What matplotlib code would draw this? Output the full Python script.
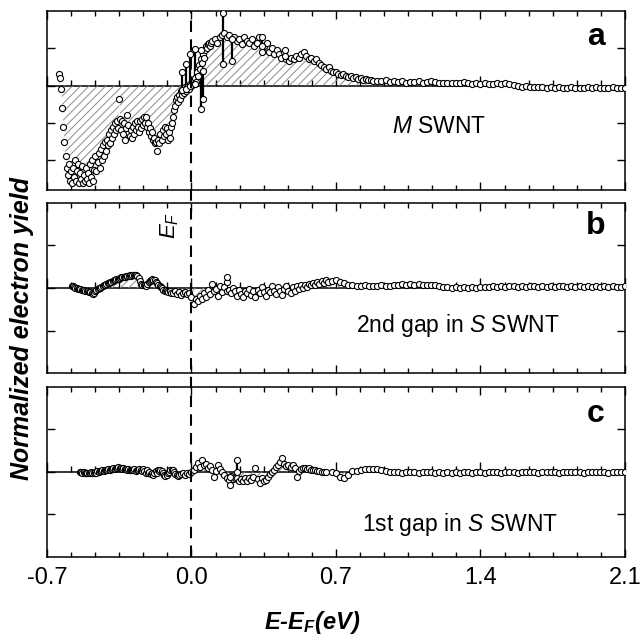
import numpy as np
import matplotlib
matplotlib.use('Agg')
import matplotlib.pyplot as plt
import matplotlib.transforms as mtransforms
from matplotlib.lines import Line2D
from matplotlib.ticker import MultipleLocator

plt.rcParams['font.family'] = ['Liberation Sans', 'DejaVu Sans']
plt.rcParams['mathtext.fontset'] = 'custom'
plt.rcParams['mathtext.rm'] = 'Liberation Sans'
plt.rcParams['mathtext.it'] = 'Liberation Sans:italic'
plt.rcParams['mathtext.bf'] = 'Liberation Sans:bold'
plt.rcParams['mathtext.bfit'] = 'Liberation Sans:bold:italic'
plt.rcParams['axes.unicode_minus'] = False
plt.rcParams['hatch.linewidth'] = 0.7

# ---- data (energy relative to E_F in eV, yield in panel units) ----
fermi_energy = 0.0
x_ticks = [-0.7, 0.0, 0.7, 1.4, 2.1]
x_tick_labels = ['-0.7', '0.0', '0.7', '1.4', '2.1']

# panel a: M SWNT  -- three scan segments (start energy, step)
a_starts = [-0.640, 0.112, 0.900]
a_steps = [0.005, 0.012, 0.020]
a_seg1 = [0.30, 0.20, -0.10, -0.60, -1.10, -1.50, -1.90, -2.20, -2.40, -2.10,
          -2.55, -2.30, -2.60, -2.20, -2.45, -2.00, -2.55, -2.30, -2.10, -2.60,
          -2.35, -2.50, -2.15, -2.60, -2.40, -2.55, -2.20, -2.50, -2.35, -2.60,
          -2.10, -2.45, -2.00, -2.55, -2.25, -1.90, -2.30, -2.05, -1.80, -2.20,
          -1.70, -2.00, -1.60, -1.90, -1.50, -1.75, -1.45, -1.60, -1.30, -1.55,
          -1.20, -1.40, -1.10, -1.30, -1.00, -1.20, -0.95, -1.15, -0.35, -0.90,
          -1.20, -0.95, -1.30, -1.00, -1.45, -1.15, -0.80, -1.05, -1.35, -1.20,
          -1.40, -1.10, -1.30, -1.00, -1.20, -0.95, -1.10, -1.25, -0.95, -1.15,
          -0.90, -1.05, -0.85, -1.00, -0.85, -1.10, -1.00, -1.25, -1.15, -1.35,
          -1.25, -1.45, -1.40, -1.55, -1.50, -1.75, -1.45, -1.55, -1.30, -1.45,
          -1.20, -1.35, -1.10, -1.30, -1.15, -1.45, -1.25, -1.40, -1.10, -1.00,
          -0.85, -0.65, -0.55, -0.40, -0.30, -0.45, -0.25, -0.35, -0.15, -0.25,
          -0.10, -0.20, -0.05, -0.15, -0.05, 0.00, -0.10, 0.05, 0.00, 0.10,
          0.05, 0.20, 0.10, 0.35, 0.25, 0.55, 0.45, 0.70, 0.60, 0.85,
          0.75, 0.95, 1.05, 1.00, 1.10, 1.15, 1.05, 1.15, 1.20]
a_seg2 = [1.25, 1.15, 1.30, 1.35, 1.40, 1.30, 1.35, 1.25, 1.30, 1.20,
          1.25, 1.10, 1.30, 1.20, 1.15, 1.25, 1.05, 1.15, 1.30, 0.90,
          1.05, 1.15, 0.90, 1.00, 0.85, 0.95, 0.85, 0.75, 0.90, 0.70,
          0.65, 0.75, 0.70, 0.80, 0.75, 0.85, 0.90, 0.80, 0.70, 0.75,
          0.65, 0.70, 0.60, 0.55, 0.50, 0.45, 0.50, 0.40, 0.35, 0.35,
          0.30, 0.28, 0.30, 0.25, 0.22, 0.25, 0.20, 0.22, 0.18, 0.20,
          0.15, 0.17, 0.14, 0.15, 0.12]
a_seg3 = [0.13, 0.11, 0.14, 0.10, 0.12, 0.09, 0.11, 0.08, 0.10, 0.09,
          0.11, 0.08, 0.10, 0.12, 0.09, 0.07, 0.08, 0.06, 0.07, 0.06,
          0.08, 0.09, 0.07, 0.05, 0.06, 0.05, 0.06, 0.04, 0.05, 0.06,
          0.05, 0.06, 0.04, 0.01, -0.02, -0.03, -0.02, -0.04, -0.03, -0.05,
          -0.04, -0.06, -0.05, -0.06, -0.05, -0.07, -0.06, -0.05, -0.06, -0.07,
          -0.06, -0.05, -0.06, -0.05, -0.06, -0.07, -0.06, -0.05, -0.06, -0.06,
          -0.07]
a_bar_e = [-0.048, -0.027, -0.005, 0.019, 0.045, 0.056, 0.151, 0.195, 0.340, 0.453]
a_bar_lo = [-0.13, -0.09, 0.00, 0.04, -0.62, -0.36, 0.58, 0.67, 1.05, 0.80]
a_bar_hi = [0.36, 0.58, 0.84, 0.98, 0.95, 0.40, 1.93, 1.24, 1.30, 0.95]

# panel b: 2nd gap in S SWNT
b_starts = [-0.580, -0.090, 0.680]
b_steps = [0.006, 0.010, 0.020]
b_seg1 = [0.05, 0.04, 0.02, 0.00, -0.01, -0.02, -0.03, -0.03, -0.04, -0.05,
          -0.05, -0.06, -0.07, -0.08, -0.09, -0.10, -0.12, -0.13, -0.11, -0.08,
          -0.05, -0.03, -0.01, 0.01, 0.03, 0.05, 0.07, 0.08, 0.10, 0.11,
          0.12, 0.14, 0.15, 0.17, 0.18, 0.19, 0.20, 0.21, 0.22, 0.24,
          0.25, 0.25, 0.26, 0.27, 0.28, 0.28, 0.29, 0.30, 0.29, 0.30,
          0.31, 0.30, 0.31, 0.29, 0.24, 0.16, 0.10, 0.07, 0.06, 0.08,
          0.05, 0.10, 0.14, 0.17, 0.19, 0.20, 0.18, 0.19, 0.15, 0.12,
          0.08, 0.05, 0.02, -0.01, -0.04, -0.06, -0.05, -0.08, -0.10, -0.07,
          -0.11]
b_seg2 = [-0.12, -0.08, -0.14, -0.10, -0.16, -0.12, -0.09, -0.15, -0.11, -0.20,
          -0.37, -0.25, -0.30, -0.18, -0.26, -0.12, -0.20, -0.05, -0.14, 0.10,
          -0.08, -0.02, -0.18, 0.05, -0.10, 0.02, -0.06, -0.05, -0.12, 0.00,
          -0.08, -0.18, -0.04, -0.14, -0.22, -0.06, -0.12, -0.02, -0.16, -0.08,
          -0.20, -0.05, -0.12, 0.03, -0.10, -0.18, -0.04, -0.10, 0.04, -0.06,
          -0.14, 0.02, -0.08, -0.16, -0.03, 0.05, -0.07, -0.12, 0.02, -0.06,
          0.04, -0.02, 0.06, 0.00, 0.08, 0.03, 0.10, 0.06, 0.12, 0.08,
          0.14, 0.10, 0.16, 0.12, 0.18, 0.14]
b_seg3 = [0.16, 0.19, 0.14, 0.12, 0.08, 0.06, 0.05, 0.04, 0.06, 0.05,
          0.04, 0.05, 0.06, 0.04, 0.05, 0.07, 0.08, 0.09, 0.08, 0.09,
          0.08, 0.09, 0.08, 0.07, 0.08, 0.06, 0.04, 0.03, 0.02, 0.01,
          0.02, 0.01, 0.03, 0.01, 0.02, 0.01, 0.03, 0.02, 0.03, 0.04,
          0.03, 0.04, 0.03, 0.04, 0.05, 0.03, 0.04, 0.03, 0.04, 0.05,
          0.03, 0.04, 0.03, 0.04, 0.03, 0.04, 0.05, 0.03, 0.04, 0.03,
          0.04, 0.03, 0.04, 0.03, 0.04, 0.03, 0.04, 0.03, 0.04, 0.03,
          0.03, 0.04]
b_bar_e = [0.170]
b_bar_lo = [0.13]
b_bar_hi = [0.25]

# panel c: 1st gap in S SWNT
c_starts = [-0.540, -0.050, 0.680]
c_steps = [0.006, 0.010, 0.020]
c_seg1 = [0.00, -0.01, -0.02, -0.01, -0.03, -0.02, -0.04, -0.02, -0.03, -0.01,
          -0.03, -0.02, 0.00, -0.02, 0.01, -0.01, 0.02, 0.01, 0.03, 0.02,
          0.04, 0.03, 0.05, 0.06, 0.05, 0.07, 0.06, 0.08, 0.07, 0.09,
          0.08, 0.10, 0.08, 0.09, 0.07, 0.08, 0.06, 0.07, 0.05, 0.06,
          0.04, 0.05, 0.03, 0.04, 0.06, 0.02, 0.05, 0.03, 0.07, 0.04,
          0.02, 0.06, 0.01, -0.02, 0.03, -0.04, 0.00, -0.06, -0.02, -0.07,
          -0.03, 0.02, -0.04, 0.04, 0.01, 0.05, 0.02, -0.03, -0.07, -0.10,
          -0.08, -0.04, 0.00, 0.03, 0.05, 0.03, -0.01, -0.05, -0.08, -0.09,
          -0.07]
c_seg2 = [-0.06, -0.04, -0.07, -0.02, -0.05, 0.00, 0.04, 0.12, 0.20, 0.10,
          0.27, 0.15, 0.18, 0.08, 0.14, 0.04, -0.12, 0.02, 0.15, 0.06,
          0.00, -0.08, -0.14, -0.20, -0.10, -0.18, -0.15, -0.15, -0.22, -0.18,
          -0.23, -0.16, -0.21, -0.14, -0.19, -0.12, 0.08, -0.18, -0.27, -0.15,
          -0.22, -0.20, -0.12, -0.06, 0.00, 0.04, 0.10, 0.15, 0.22, 0.31,
          0.18, 0.14, 0.16, 0.12, 0.15, 0.08, -0.12, 0.02, 0.06, 0.09,
          0.08, 0.06, 0.08, 0.05, 0.03, 0.04, 0.01, 0.02, 0.00, -0.01,
          0.00]
c_seg3 = [0.00, -0.02, -0.12, -0.15, -0.08, 0.01, 0.02, 0.03, 0.06, 0.07,
          0.06, 0.07, 0.04, 0.01, 0.00, -0.01, 0.00, -0.02, -0.01, 0.00,
          -0.01, -0.02, -0.01, 0.00, -0.01, -0.02, -0.01, -0.02, -0.01, -0.02,
          -0.01, -0.02, -0.01, -0.01, -0.02, -0.01, -0.01, -0.02, -0.01, -0.01,
          -0.01, -0.02, -0.01, -0.01, -0.01, -0.02, -0.01, -0.01, -0.01, -0.01,
          -0.02, -0.01, -0.01, -0.01, -0.01, -0.02, -0.01, -0.01, -0.01, -0.01,
          -0.01, -0.02, -0.01, -0.01, -0.01, -0.01, -0.01, -0.02, -0.01, -0.01,
          -0.01, -0.01]
c_bar_e = [0.187, 0.219]
c_bar_lo = [-0.31, 0.00]
c_bar_hi = [-0.12, 0.27]


def build(starts, steps, segs):
    e = np.concatenate([s0 + st * np.arange(len(sg)) for s0, st, sg in zip(starts, steps, segs)])
    y = np.concatenate([np.asarray(sg, float) for sg in segs])
    return e, y


mk = dict(ls='none', marker='o', ms=4.4, mfc='white', mec='k', mew=0.8)

fig = plt.figure(figsize=(6.43, 6.40), dpi=100)
left, width = 0.073, 0.899
ax_a = fig.add_axes([left, 0.703, width, 0.280])
ax_b = fig.add_axes([left, 0.417, width, 0.266])
ax_c = fig.add_axes([left, 0.130, width, 0.266])

panels = [
    (ax_a, build(a_starts, a_steps, [a_seg1, a_seg2, a_seg3]), (a_bar_e, a_bar_lo, a_bar_hi),
     (-2.8, 2.0), [-2, -1, 0, 1], 'a', r'$M$ SWNT', (0.678, 0.318), 0.81),
    (ax_b, build(b_starts, b_steps, [b_seg1, b_seg2, b_seg3]), (b_bar_e, b_bar_lo, b_bar_hi),
     (-2.0, 2.0), [-1, 0, 1], 'b', r'2nd gap in $S$ SWNT', (0.711, 0.243), 0.818),
    (ax_c, build(c_starts, c_steps, [c_seg1, c_seg2, c_seg3]), (c_bar_e, c_bar_lo, c_bar_hi),
     (-2.0, 2.0), [-1, 0, 1], 'c', r'1st gap in $S$ SWNT', (0.715, 0.149), 0.794),
]

for ax, (e, y), (be, blo, bhi), ylim, yt, letter, label, lpos, ly in panels:
    ax.fill_between(e, y, 0, facecolor='none', edgecolor='#8a8a8a', hatch='////',
                    linewidth=0, zorder=1)
    ax.vlines(be, blo, bhi, color='k', lw=1.6, zorder=3)
    ax.plot(e, y, zorder=4, **mk)
    ax.plot(be, blo, zorder=4, **mk)
    ax.plot(be, bhi, zorder=4, **mk)

    ax.set_xlim(-0.7, 2.1)
    ax.set_ylim(*ylim)
    ax.set_xticks(x_ticks)
    ax.set_xticklabels(x_tick_labels)
    ax.xaxis.set_minor_locator(MultipleLocator(0.7 / 6))
    ax.set_yticks(yt)
    ax.tick_params(which='both', direction='in', top=True, right=True,
                   labelleft=False, labelbottom=False, width=1.0)
    ax.tick_params(which='major', length=5.5)
    ax.tick_params(which='minor', length=3.5)
    for sp in ax.spines.values():
        sp.set_linewidth(1.1)

    # zero line with its own small ticks
    zero = ax.secondary_xaxis(0.0, transform=ax.transData)
    zero.set_xticks(x_ticks)
    zero.xaxis.set_minor_locator(MultipleLocator(0.7 / 6))
    zero.tick_params(which='both', direction='in', labelbottom=False, labeltop=False, width=1.0)
    zero.tick_params(which='major', length=7)
    zero.tick_params(which='minor', length=4)
    for sp in zero.spines.values():
        sp.set_linewidth(1.1)

    ax.text(0.95, ly, letter, transform=ax.transAxes, fontsize=23,
            fontweight='bold', ha='center', va='baseline')
    ax.text(lpos[0], lpos[1], label, transform=ax.transAxes, fontsize=16.5,
            ha='center', va='baseline')

ax_c.tick_params(labelbottom=True, labelsize=17, pad=7)

ax_b.text(-0.104, 1.47, r'$E_F$', fontsize=16, rotation=90, ha='center', va='center')

# Fermi level dashed line through all panels
y_bot = ax_c.get_position().y0
y_top = ax_a.get_position().y1
trans = mtransforms.blended_transform_factory(ax_c.transData, fig.transFigure)
fig.add_artist(Line2D([fermi_energy, fermi_energy], [y_bot, y_top], transform=trans,
                      color='k', lw=1.5, dashes=(5.5, 3.5), zorder=5))

fig.text(0.034, 0.4875, 'Normalized electron yield', rotation=90, fontsize=18,
         fontweight='bold', fontstyle='italic', ha='center', va='center')
fig.text(0.485, 0.027, r'$\mathbfit{E}$-$\mathbfit{E}_{\mathbfit{F}}$(eV)', fontsize=17,
         fontweight='bold', fontstyle='italic', ha='center', va='center')

fig.savefig('out.png', dpi=100)
